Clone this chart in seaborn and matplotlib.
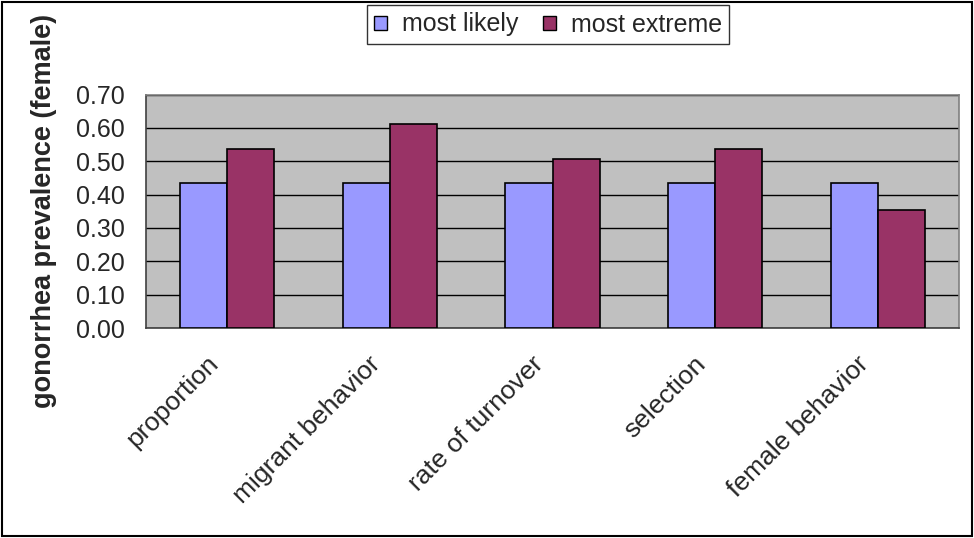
import matplotlib
matplotlib.use("Agg")
import matplotlib.pyplot as plt
from matplotlib.patches import Rectangle
from matplotlib.transforms import ScaledTranslation
import seaborn as sns
import pandas as pd

categories = ["proportion", "migrant behavior", "rate of turnover", "selection", "female behavior"]
most_likely = [0.435, 0.435, 0.435, 0.435, 0.435]
most_extreme = [0.536, 0.613, 0.507, 0.536, 0.354]
series_names = ["most likely", "most extreme"]
y_ticks = [0.0, 0.1, 0.2, 0.3, 0.4, 0.5, 0.6, 0.7]

df = pd.DataFrame({
    "category": categories * 2,
    "value": most_likely + most_extreme,
    "series": [series_names[0]] * len(categories) + [series_names[1]] * len(categories),
})

sns.set_style("white")
plt.rcParams["font.family"] = ["Liberation Sans", "DejaVu Sans"]

FS = 18

fig = plt.figure(figsize=(9.74, 5.38), dpi=100)
ax_left, ax_right, ax_top, ax_bottom = 146, 959, 94.5, 328
ax = fig.add_axes([ax_left / 974, 1 - ax_bottom / 538,
                   (ax_right - ax_left) / 974, (ax_bottom - ax_top) / 538])

sns.barplot(
    data=df, x="category", y="value", hue="series", order=categories,
    palette=["#9999FF", "#993366"], saturation=1, width=0.58, gap=0,
    edgecolor="black", linewidth=1.2, ax=ax, legend=True, zorder=3,
)

ax.set_facecolor("#C0C0C0")
ax.set_ylim(0, 0.7)
ax.set_xlim(-0.5, len(categories) - 0.5)
ax.set_yticks(y_ticks)
ax.set_yticklabels([f"{t:.2f}" for t in y_ticks], fontsize=FS)
ax.yaxis.grid(True, color="black", linewidth=1.0, zorder=0)
ax.set_axisbelow(True)

# category ticks sit on the boundaries between groups
ax.set_xticks([i - 0.5 for i in range(len(categories) + 1)], minor=False)
ax.set_xticklabels([])
ax.set_xticks(range(len(categories)), minor=True)
ax.set_xticklabels(categories, minor=True, rotation=45, ha="right", va="center",
                   rotation_mode="anchor", fontsize=19)
ax.tick_params(axis="x", which="major", direction="out", length=6, width=1, color="#404040")
ax.tick_params(axis="x", which="minor", length=0, pad=23)
ax.tick_params(axis="y", direction="out", length=6.5, width=1, color="#404040", pad=9)

ax.set_xlabel("")
ax.set_ylabel("gonorrhea prevalence (female)", fontsize=19.5, fontweight="bold")
ax.yaxis.set_label_coords((57 - ax_left) / (ax_right - ax_left), 0.5)

for side in ["top", "right"]:
    ax.spines[side].set_color("#808080")
    ax.spines[side].set_linewidth(1.2)
for side in ["left", "bottom"]:
    ax.spines[side].set_color("#404040")
    ax.spines[side].set_linewidth(1.2)

ax.legend_.remove()
handles, labels = ax.get_legend_handles_labels()
leg = fig.legend(handles, labels, loc="upper center", bbox_to_anchor=(548 / 974, 1 - 5 / 538),
                 ncol=2, frameon=True, fancybox=False, fontsize=FS,
                 handlelength=0.5, handleheight=0.5, handletextpad=0.6,
                 columnspacing=1.0, borderpad=0.3, borderaxespad=0)
leg.get_frame().set_edgecolor("black")
leg.get_frame().set_linewidth(1.0)
for h in leg.legend_handles:
    h.set_edgecolor("black")
    h.set_linewidth(1.0)

# outer chart border
fig.patches.append(Rectangle((2 / 974, 2 / 538), 970 / 974, 534 / 538, transform=fig.transFigure,
                             fill=False, edgecolor="black", linewidth=1.5))

# nudge the slanted category labels left of the group centres
shift = ScaledTranslation(-13 / 100, 0, fig.dpi_scale_trans)
for lab in ax.get_xticklabels(minor=True):
    lab.set_transform(lab.get_transform() + shift)

fig.savefig("out.png", dpi=100)
